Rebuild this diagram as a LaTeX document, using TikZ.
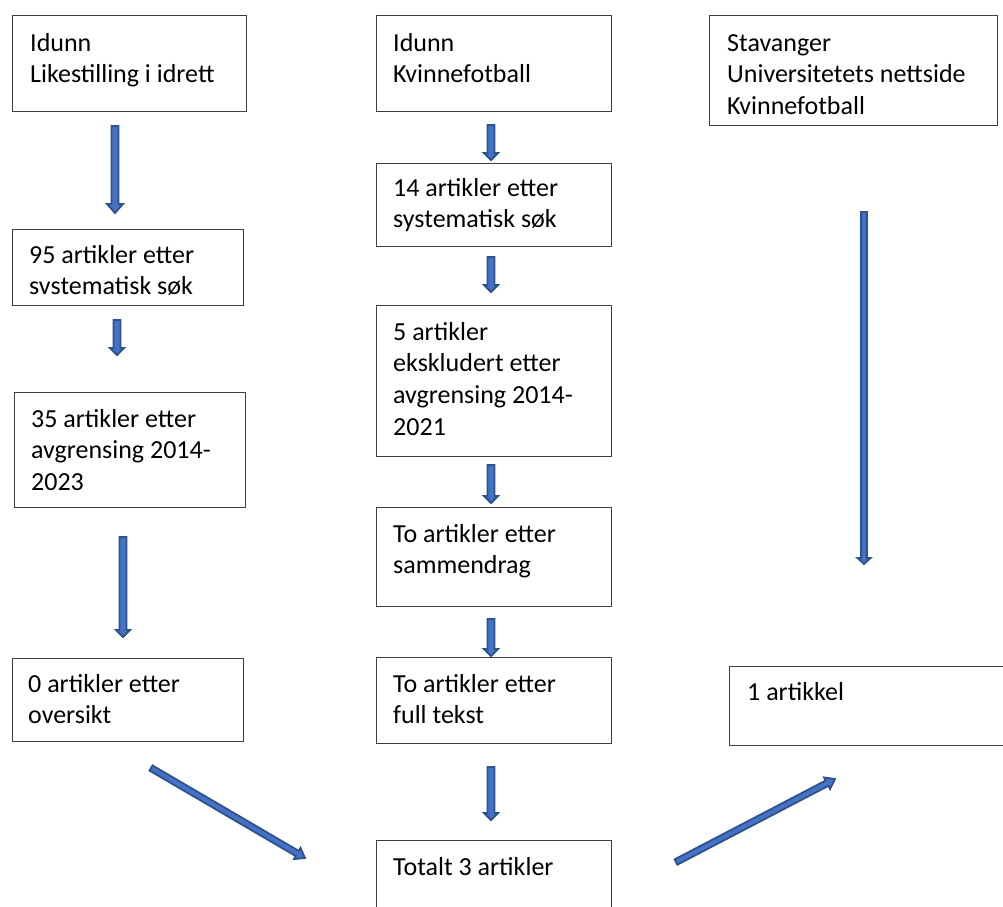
\documentclass[tikz,border=0pt]{standalone}
\usepackage{fontspec}
\setmainfont{Carlito}
\usetikzlibrary{calc}
\definecolor{arrfill}{HTML}{4472C4}
\definecolor{arrline}{HTML}{2F528F}
\definecolor{boxline}{HTML}{404040}
\tikzset{
  box/.style={draw=boxline, line width=1pt, rectangle, inner sep=0pt, anchor=north west},
  txt/.style={anchor=base west, inner sep=0pt, align=left, font=\fontsize{26}{31.7}\selectfont},
  arrsty/.style={fill=arrfill, draw=arrline, line width=1.8pt, line join=miter}
}
\newcommand\blockarr[5]{%
  \filldraw[arrsty] let \p1=(#1), \p2=(#2),
    \n1={atan2(\y2-\y1,\x2-\x1)}, \n2={veclen(\x2-\x1,\y2-\y1)} in
    [shift={(\p1)}, rotate=\n1]
    (0,-#3) -- ({\n2-#5},-#3) -- ({\n2-#5},-#4) -- ({\n2},0) --
    ({\n2-#5},#4) -- ({\n2-#5},#3) -- (0,#3) -- cycle;}
\begin{document}
\begin{tikzpicture}[x=1pt,y=-1pt]
\useasboundingbox (0,0) rectangle (1003,906);
% boxes
\node[box, minimum width=234pt, minimum height=96pt] (b1) at (12,15) {};
\node[box, minimum width=235pt, minimum height=96pt] (b2) at (376,15) {};
\node[box, minimum width=288pt, minimum height=110pt] (b3) at (709,15) {};
\node[box, minimum width=231pt, minimum height=76pt] (b4) at (12,229) {};
\node[box, minimum width=231pt, minimum height=115pt] (b5) at (14,392) {};
\node[box, minimum width=231pt, minimum height=83pt] (b6) at (12,658) {};
\node[box, minimum width=235pt, minimum height=83pt] (b7) at (376,163) {};
\node[box, minimum width=235pt, minimum height=151pt] (b8) at (376,305) {};
\node[box, minimum width=235pt, minimum height=99pt] (b9) at (376,507) {};
\node[box, minimum width=235pt, minimum height=86pt] (b10) at (376,657) {};
\node[box, minimum width=290pt, minimum height=79pt] (b11) at (729,666) {};
\node[box, minimum width=235pt, minimum height=90pt] (b12) at (376,840) {};
% texts (base anchor = baseline of last line)
\node[txt, xshift=18pt, yshift=-67.7pt] (t1) at (b1.north west) {Idunn\\Likestilling i idrett};
\node[txt, xshift=17pt, yshift=-67.7pt] (t2) at (b2.north west) {Idunn\\Kvinnefotball};
\node[txt, xshift=18pt, yshift=-99.4pt] (t3) at (b3.north west) {Stavanger\\Universitetets nettside\\Kvinnefotball};
\node[txt, xshift=17pt, yshift=-65.7pt] (t4) at (b4.north west) {95 artikler etter\\svstematisk søk};
\node[txt, xshift=17pt, yshift=-98.4pt] (t5) at (b5.north west) {35 artikler etter\\avgrensing 2014-\\2023};
\node[txt, xshift=16pt, yshift=-65.7pt] (t6) at (b6.north west) {0 artikler etter\\oversikt};
\node[txt, xshift=17pt, yshift=-64.7pt] (t7) at (b7.north west) {14 artikler etter\\systematisk søk};
\node[txt, xshift=17pt, yshift=-130.1pt] (t8) at (b8.north west) {5 artikler\\ekskludert etter\\avgrensing 2014-\\2021};
\node[txt, xshift=17pt, yshift=-66.7pt] (t9) at (b9.north west) {To artikler etter\\sammendrag};
\node[txt, xshift=17pt, yshift=-66.7pt] (t10) at (b10.north west) {To artikler etter\\full tekst};
\node[txt, xshift=18pt, yshift=-34pt] (t11) at (b11.north west) {1 artikkel};
\node[txt, xshift=17pt, yshift=-35pt] (t12) at (b12.north west) {Totalt 3 artikler};
% arrow end points
\coordinate (a1s) at (115,126); \coordinate (a1e) at (115,213);
\coordinate (a2s) at (117,320); \coordinate (a2e) at (117,355);
\coordinate (a3s) at (123,537); \coordinate (a3e) at (123,637);
\coordinate (m1s) at (491,125); \coordinate (m1e) at (491,160);
\coordinate (m2s) at (491,257); \coordinate (m2e) at (491,292);
\coordinate (m3s) at (491,465); \coordinate (m3e) at (491,503);
\coordinate (m4s) at (491,619); \coordinate (m4e) at (491,656);
\coordinate (m5s) at (491,767); \coordinate (m5e) at (491,820);
\coordinate (rs) at (864,212); \coordinate (re) at (864,564);
\coordinate (d1s) at (151,768); \coordinate (d1e) at (305,858);
\coordinate (d2s) at (676,862); \coordinate (d2e) at (835,779);
% arrows
\blockarr{a1s}{a1e}{3.5}{8}{9}
\blockarr{a2s}{a2e}{3.5}{7}{7}
\blockarr{a3s}{a3e}{3.5}{7}{7}
\blockarr{m1s}{m1e}{3.5}{7}{7}
\blockarr{m2s}{m2e}{3.5}{7}{7}
\blockarr{m3s}{m3e}{3.5}{7}{7}
\blockarr{m4s}{m4e}{3.5}{7}{7}
\blockarr{m5s}{m5e}{3.5}{7}{7}
\blockarr{rs}{re}{3}{6.5}{6}
\blockarr{d1s}{d1e}{3}{6.5}{9}
\blockarr{d2s}{d2e}{3}{6.5}{9}
\end{tikzpicture}
\end{document}
